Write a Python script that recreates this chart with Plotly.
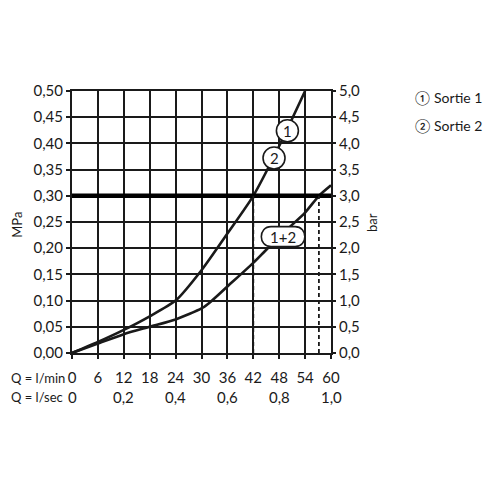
import plotly.graph_objects as go

# Flow in l/min, pressure in MPa
flow_lmin = [0, 6, 12, 18, 24, 30, 36, 42, 48, 54]
sortie_2 = [0, 0.021, 0.044, 0.070, 0.100, 0.158, 0.228, 0.300, 0.395, 0.500]

flow_both = [0, 6, 12, 18, 24, 30, 32, 36, 42, 48, 54, 57.2, 60]
sortie_1_2 = [0, 0.018, 0.036, 0.050, 0.064, 0.085, 0.097, 0.127, 0.172, 0.222, 0.268, 0.300, 0.320]

ref_pressure = 0.30
ref_flows = [42, 57.2]

lmin_ticks = [0, 6, 12, 18, 24, 30, 36, 42, 48, 54, 60]
lsec_ticks = [0, 12, 24, 36, 48, 60]
lsec_labels = ["0", "0,2", "0,4", "0,6", "0,8", "1,0"]

legend_items = ["\u2460 Sortie 1", "\u2461 Sortie 2"]

# curve labels: (text, x, y, kind)
curve_labels = [("1", 49.9, 0.424, "circle"), ("2", 46.8, 0.372, "circle"),
                ("1+2", 48.9, 0.222, "pill")]

FONT = "Lato"
INK = "#1a1a1a"

fig = go.Figure()

fig.add_trace(go.Scatter(x=flow_lmin, y=sortie_2, mode="lines",
                         line=dict(color=INK, width=2.6, shape="spline", smoothing=0.6)))
fig.add_trace(go.Scatter(x=flow_both, y=sortie_1_2, mode="lines",
                         line=dict(color=INK, width=2.6, shape="spline", smoothing=0.6)))

# thick reference line at 0.30 MPa
fig.add_trace(go.Scatter(x=[lmin_ticks[0], lmin_ticks[-1]], y=[ref_pressure, ref_pressure],
                         mode="lines", line=dict(color="black", width=4.5)))

# dashed drop lines
for f in ref_flows:
    fig.add_trace(go.Scatter(x=[f, f], y=[0, ref_pressure], mode="lines",
                             line=dict(color=INK, width=1.8, dash="4px,3px")))

# dummy trace for the bar axis
fig.add_trace(go.Scatter(x=[0], y=[0], yaxis="y2", mode="markers",
                         marker=dict(opacity=0), hoverinfo="skip"))

shapes = []
annotations = []
for text, x, y, kind in curve_labels:
    if kind == "circle":
        shapes.append(dict(type="circle", xref="x", yref="y", xsizemode="pixel", ysizemode="pixel",
                           xanchor=x, yanchor=y, x0=-11, x1=11, y0=-11, y1=11,
                           fillcolor="white", line=dict(color=INK, width=1.6)))
    else:
        shapes.append(dict(type="path", xref="x", yref="y", xsizemode="pixel", ysizemode="pixel",
                           xanchor=x, yanchor=y,
                           path="M -12,-10 L 12,-10 C 25,-10 25,10 12,10 L -12,10 C -25,10 -25,-10 -12,-10 Z",
                           fillcolor="white", line=dict(color=INK, width=1.6)))
    annotations.append(dict(x=x, y=y, xref="x", yref="y", text=text, showarrow=False,
                            xanchor="center", yanchor="middle",
                            font=dict(family=FONT, size=15, color=INK)))

# second row of x labels (l/sec)
for x, lab in zip(lsec_ticks, lsec_labels):
    annotations.append(dict(x=x, y=-0.168, xref="x", yref="paper", text=lab, showarrow=False,
                            xanchor="center", yanchor="middle",
                            font=dict(family=FONT, size=15, color=INK)))

annotations += [
    dict(x=-0.245, y=-0.095, xref="paper", yref="paper", text="Q = l/min", showarrow=False,
         xanchor="left", yanchor="middle", font=dict(family=FONT, size=13, color=INK)),
    dict(x=-0.245, y=-0.168, xref="paper", yref="paper", text="Q = l/sec", showarrow=False,
         xanchor="left", yanchor="middle", font=dict(family=FONT, size=13, color=INK)),
    dict(x=-0.212, y=0.49, xref="paper", yref="paper", text="MPa", textangle=-90, showarrow=False,
         xanchor="center", yanchor="middle", font=dict(family=FONT, size=13, color=INK)),
    dict(x=1.158, y=0.50, xref="paper", yref="paper", text="bar", textangle=-90, showarrow=False,
         xanchor="center", yanchor="middle", font=dict(family=FONT, size=13, color=INK)),
]
for i, item in enumerate(legend_items):
    annotations.append(dict(x=1.316, y=0.975 - i * 0.107, xref="paper", yref="paper", text=item,
                            xanchor="left", yanchor="middle", showarrow=False,
                            font=dict(family=FONT, size=14, color=INK)))

axis_common = dict(showgrid=True, gridcolor=INK, gridwidth=1.6, showline=True, linecolor=INK,
                   linewidth=2, ticks="outside", ticklen=4, tickcolor=INK, tickwidth=1.5,
                   zeroline=False, tickfont=dict(family=FONT, size=15, color=INK))

fig.update_layout(
    width=496, height=496,
    # page body adds 8px, so margins are trimmed on the top/left
    margin=dict(l=64, r=173, t=83, b=151),
    plot_bgcolor="white", paper_bgcolor="white",
    separators=",.",
    showlegend=False,
    xaxis=dict(range=[0, 60], tickvals=lmin_ticks, mirror=True, ticklabelstandoff=6, **axis_common),
    yaxis=dict(range=[0, 0.5], dtick=0.05, tickformat=".2f", mirror=True, **axis_common),
    yaxis2=dict(range=[0, 5], dtick=0.5, tickformat=".1f", overlaying="y", side="right",
                showgrid=False, showline=False, ticks="outside", ticklen=4, tickcolor=INK,
                tickwidth=1.5, zeroline=False, tickfont=dict(family=FONT, size=15, color=INK)),
    shapes=shapes,
    annotations=annotations,
)

fig.write_html("out.html")
